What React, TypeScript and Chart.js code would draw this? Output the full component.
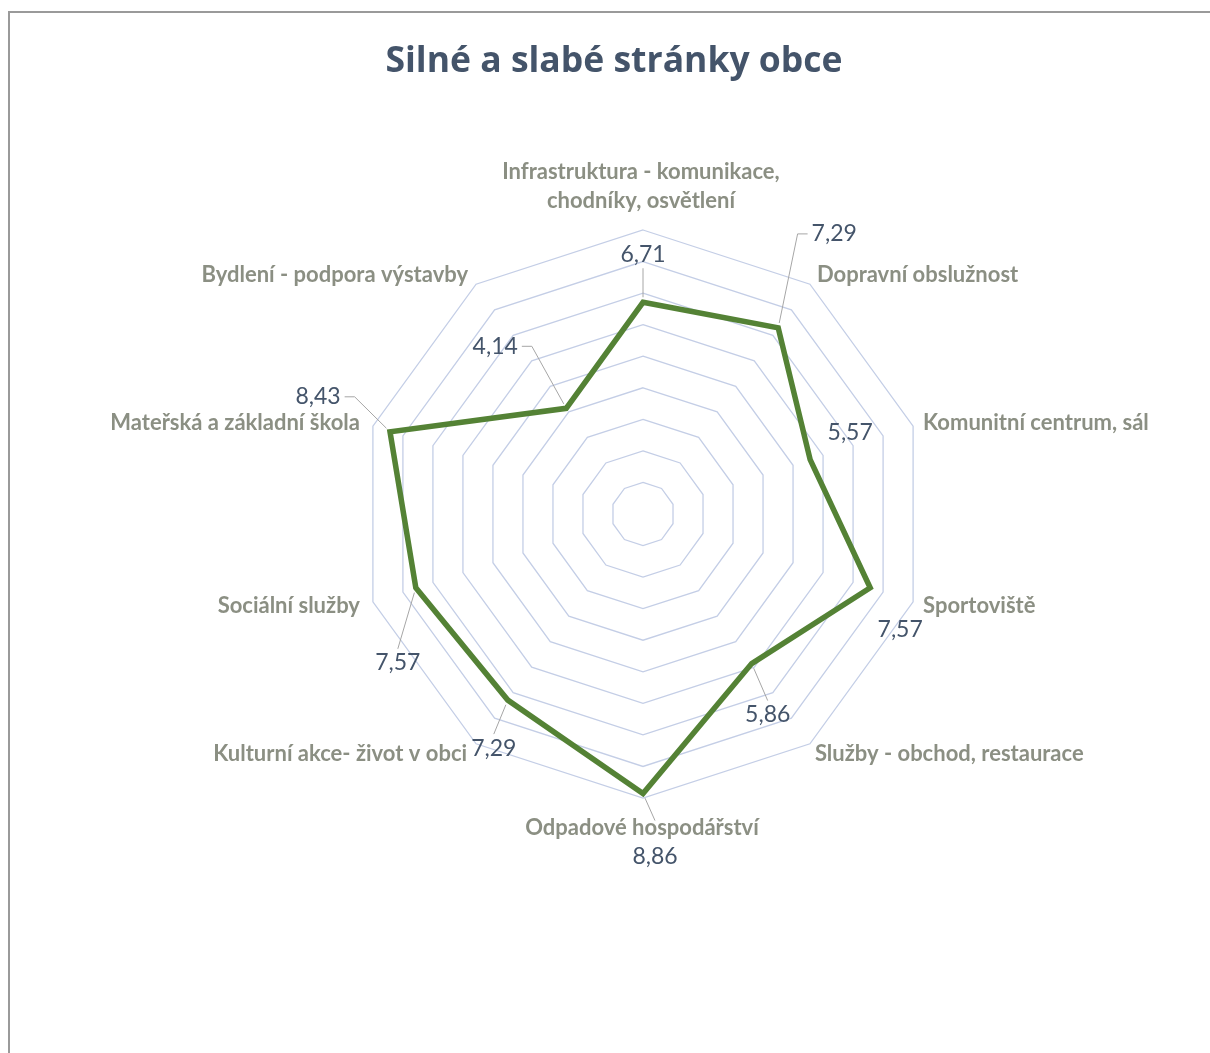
import React, { useEffect, useRef } from 'react';
import { Chart, registerables } from 'chart.js';

Chart.register(...registerables);

// ---------- data ----------
const chartTitle = 'Silné a slabé stránky obce';

const categories: (string | string[])[] = [
  ['Infrastruktura - komunikace,', 'chodníky, osvětlení'],
  'Dopravní obslužnost',
  'Komunitní centrum, sál',
  'Sportoviště',
  'Služby - obchod, restaurace',
  'Odpadové hospodářství',
  'Kulturní akce- život v obci',
  'Sociální služby',
  'Mateřská a základní škola',
  'Bydlení - podpora výstavby',
];

const values = [6.71, 7.29, 5.57, 7.57, 5.86, 8.86, 7.29, 7.57, 8.43, 4.14];

const scaleMin = 0;
const scaleMax = 9;
const scaleStep = 1;

// ---------- layout / style (positions kept separate from data) ----------
// category label: [textAlign, dx, dy] relative to the outer polygon vertex
const categoryLabelPlacement: [CanvasTextAlign, number, number][] = [
  ['center', -2, -29],
  ['left', 7, -9],
  ['left', 10, -3],
  ['left', 10, 4],
  ['left', 5, 10],
  ['center', -1, 30],
  ['right', -9, 10],
  ['right', -13, 4],
  ['right', -13, -3],
  ['right', -8, -9],
];

// value label: [dx, dy, leader type, start gap] relative to the data point
const valueLabelPlacement: [number, number, 'none' | 'v' | 'h', number][] = [
  [0, -48, 'v', 4],
  [56, -94, 'h', 4],
  [40, -27, 'none', 0],
  [30, 42, 'none', 0],
  [16, 51, 'v', 4],
  [12, 63, 'v', 26],
  [-14, 48, 'v', 4],
  [-18, 75, 'v', 4],
  [-72, -35, 'h', 4],
  [-71, -62, 'h', 4],
];

const formatValue = (v: number) => v.toFixed(2).replace('.', ',');

const excelLabels = {
  id: 'excelLabels',
  afterDatasetsDraw(chart: any) {
    const ctx: CanvasRenderingContext2D = chart.ctx;
    const scale = chart.scales.r;
    ctx.save();

    // title
    ctx.font = 'bold 35.5px "Open Sans"';
    ctx.fillStyle = '#44546a';
    ctx.textAlign = 'center';
    ctx.textBaseline = 'alphabetic';
    ctx.fillText(chartTitle, 614, 72);

    // value labels with leader lines
    ctx.font = '23px Lato';
    ctx.textBaseline = 'middle';
    const meta = chart.getDatasetMeta(0);
    meta.data.forEach((pt: any, i: number) => {
      const [dx, dy, leader, gap] = valueLabelPlacement[i];
      const cx = pt.x + dx;
      const cy = pt.y + dy;
      const text = formatValue(values[i]);
      const w = ctx.measureText(text).width;
      const h = 20;
      if (leader !== 'none') {
        ctx.strokeStyle = '#a6a6a6';
        ctx.lineWidth = 1;
        ctx.beginPath();
        let sx: number, sy: number;
        if (leader === 'v') {
          sx = cx;
          sy = cy + Math.sign(pt.y - cy) * (h / 2 + gap);
          ctx.moveTo(sx, sy);
        } else {
          const sgn = Math.sign(pt.x - cx);
          const x0 = cx + sgn * (w / 2 + gap);
          ctx.moveTo(x0, cy);
          sx = x0 + sgn * 10;
          sy = cy;
          ctx.lineTo(sx, sy);
        }
        const ex = pt.x - sx;
        const ey = pt.y - sy;
        const len = Math.hypot(ex, ey) || 1;
        const shorten = 5;
        ctx.lineTo(pt.x - (ex / len) * shorten, pt.y - (ey / len) * shorten);
        ctx.stroke();
      }
      ctx.fillStyle = '#44546a';
      ctx.textAlign = 'center';
      ctx.fillText(text, cx, cy);
    });

    // category labels
    ctx.font = 'bold 22px Lato';
    ctx.fillStyle = '#8b8f83';
    ctx.textBaseline = 'middle';
    categories.forEach((lab, i) => {
      const p = scale.getPointPosition(i, scale.drawingArea);
      const [align, dx, dy] = categoryLabelPlacement[i];
      const lines = Array.isArray(lab) ? lab : [lab];
      ctx.textAlign = align;
      lines.forEach((ln, k) => {
        ctx.fillText(ln, p.x + dx, p.y + dy - (lines.length - 1 - k) * 29);
      });
    });

    ctx.restore();
  },
};

export default function App() {
  const canvasRef = useRef<HTMLCanvasElement | null>(null);

  useEffect(() => {
    if (!canvasRef.current) return;
    const chart = new Chart(canvasRef.current, {
      type: 'radar',
      data: {
        labels: categories,
        datasets: [
          {
            data: values,
            borderColor: '#548235',
            borderWidth: 5.5,
            fill: false,
            pointRadius: 0,
            pointHoverRadius: 0,
            tension: 0,
            borderJoinStyle: 'miter',
          },
        ],
      },
      options: {
        responsive: false,
        animation: false,
        devicePixelRatio: 1,
        layout: { padding: { left: 359, right: 283, top: 230, bottom: 255 } },
        plugins: {
          legend: { display: false },
          title: { display: false },
          tooltip: { enabled: false },
        },
        scales: {
          r: {
            min: scaleMin,
            max: scaleMax,
            ticks: { stepSize: scaleStep, display: false },
            grid: { color: '#c4cee6', lineWidth: 1.3, circular: false },
            angleLines: { display: false },
            pointLabels: { display: false },
          },
        },
      },
      plugins: [excelLabels],
    });
    return () => chart.destroy();
  }, []);

  return (
    <div
      style={{
        position: 'fixed',
        left: 0,
        top: 0,
        width: 1210,
        height: 1053,
        overflow: 'hidden',
        background: '#ffffff',
      }}
    >
      <div
        style={{
          position: 'absolute',
          left: 8,
          top: 11,
          width: 1400,
          height: 1400,
          borderTop: '2px solid #9a9a9a',
          borderLeft: '2px solid #9a9a9a',
        }}
      />
      <canvas
        ref={canvasRef}
        width={1210}
        height={1053}
        style={{ position: 'absolute', left: 0, top: 0, width: 1210, height: 1053 }}
      />
    </div>
  );
}
